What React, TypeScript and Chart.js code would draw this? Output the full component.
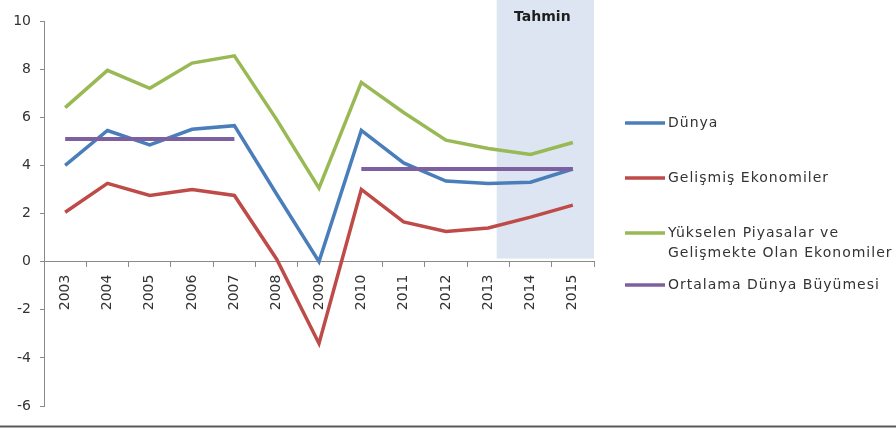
import React, { useEffect, useRef } from "react";
import { Chart, registerables } from "chart.js";

Chart.register(...registerables);

const years = ["2003", "2004", "2005", "2006", "2007", "2008", "2009", "2010", "2011", "2012", "2013", "2014", "2015"];
const dunya = [4.0, 5.45, 4.85, 5.5, 5.65, 2.8, 0.0, 5.45, 4.1, 3.35, 3.25, 3.3, 3.85];
const gelismis = [2.05, 3.25, 2.75, 3.0, 2.75, 0.1, -3.4, 3.0, 1.65, 1.25, 1.4, 1.85, 2.35];
const yukselen = [6.4, 7.95, 7.2, 8.25, 8.55, 5.9, 3.05, 7.45, 6.2, 5.05, 4.7, 4.45, 4.95];
const ortalama = [5.1, 5.1, 5.1, 5.1, 5.1, null, null, 3.85, 3.85, 3.85, 3.85, 3.85, 3.85];

const seriesLabels = ["Dünya", "Gelişmiş Ekonomiler", "Yükselen Piyasalar ve\nGelişmekte Olan Ekonomiler", "Ortalama Dünya Büyümesi"];
const seriesColors = ["#4A7EBB", "#BE4B48", "#98B954", "#7D60A0"];

const yMin = -6;
const yMax = 10;
const yStep = 2;

const forecastLabel = "Tahmin";
const forecastStartIndex = 10.2;

const FONT = "'DejaVu Sans', Verdana, sans-serif";
const TEXT = "#333333";

const decorPlugin = {
  id: "decor",
  beforeDatasetsDraw(chart: any) {
    const { ctx, chartArea, scales } = chart;
    const x0 = scales.x.getPixelForValue(forecastStartIndex);
    const x1 = chartArea.right;
    const yb = scales.y.getPixelForValue(0);
    ctx.save();
    ctx.fillStyle = "#DCE5F1";
    ctx.fillRect(x0, 0, x1 - x0, yb - 3);
    ctx.fillStyle = "#1e1e1e";
    ctx.font = `bold 14px ${FONT}`;
    ctx.textAlign = "center";
    ctx.textBaseline = "middle";
    ctx.fillText(forecastLabel, (x0 + x1) / 2 - 3, 17);
    ctx.restore();
  },
  afterDraw(chart: any) {
    const { ctx } = chart;
    ctx.save();
    const lineX0 = 625;
    const lineX1 = 665;
    const textX = 668;
    const rowY = [123, 178, 233, 285];
    ctx.font = `14px ${FONT}`;
    try {
      (ctx as any).letterSpacing = "1px";
    } catch (e) {}
    ctx.textBaseline = "middle";
    ctx.textAlign = "left";
    chart.data.datasets.forEach((ds: any, i: number) => {
      const y = rowY[i];
      ctx.strokeStyle = seriesColors[i];
      ctx.lineWidth = 3.5;
      ctx.beginPath();
      ctx.moveTo(lineX0, y);
      ctx.lineTo(lineX1, y);
      ctx.stroke();
      ctx.fillStyle = TEXT;
      const lines = String(seriesLabels[i]).split("\n");
      lines.forEach((t, k) => ctx.fillText(t, textX, y + k * 20));
    });
    try {
      (ctx as any).letterSpacing = "0px";
    } catch (e) {}
    ctx.strokeStyle = "#5a5a5a";
    ctx.lineWidth = 2;
    ctx.beginPath();
    ctx.moveTo(0, chart.height - 2.5);
    ctx.lineTo(chart.width, chart.height - 2.5);
    ctx.stroke();
    ctx.restore();
  },
};

export default function App() {
  const ref = useRef<HTMLCanvasElement>(null);
  useEffect(() => {
    if (!ref.current) return;
    const mk = (i: number, data: any[], order: number) => ({
      label: seriesLabels[i],
      data,
      borderColor: seriesColors[i],
      backgroundColor: seriesColors[i],
      borderWidth: i === 3 ? 4 : 3.5,
      pointRadius: 0,
      tension: 0,
      spanGaps: false,
      order,
    });
    const chart = new Chart(ref.current, {
      type: "line",
      data: {
        labels: years,
        datasets: [mk(0, dunya, 3), mk(1, gelismis, 2), mk(2, yukselen, 1), mk(3, ortalama, 0)],
      },
      options: {
        animation: false,
        responsive: false,
        maintainAspectRatio: false,
        layout: { padding: { left: 0, right: 302, top: 21, bottom: 23 } },
        plugins: { legend: { display: false }, tooltip: { enabled: false } },
        scales: {
          x: {
            position: { y: 0 } as any,
            offset: true,
            grid: { display: true, offset: true, drawOnChartArea: false, drawTicks: true, tickLength: 5, color: "#8a8a8a" },
            border: { display: true, color: "#8a8a8a", width: 1 },
            ticks: { minRotation: 90, maxRotation: 90, autoSkip: false, color: TEXT, font: { family: FONT, size: 14 }, padding: 8 },
          },
          y: {
            min: yMin,
            max: yMax,
            afterFit(scale: any) {
              scale.width = 44;
            },
            grid: { display: true, drawOnChartArea: false, drawTicks: true, tickLength: 4, color: "#8a8a8a" },
            border: { display: true, color: "#8a8a8a", width: 1 },
            ticks: { stepSize: yStep, color: TEXT, font: { family: FONT, size: 14 }, padding: 9 },
          },
        },
      },
      plugins: [decorPlugin],
    });
    return () => chart.destroy();
  }, []);
  return (
    <div style={{ position: "absolute", left: 0, top: 0, width: 896, height: 429, background: "#fff" }}>
      <canvas ref={ref} width={896} height={429} style={{ width: 896, height: 429, display: "block" }} />
    </div>
  );
}
